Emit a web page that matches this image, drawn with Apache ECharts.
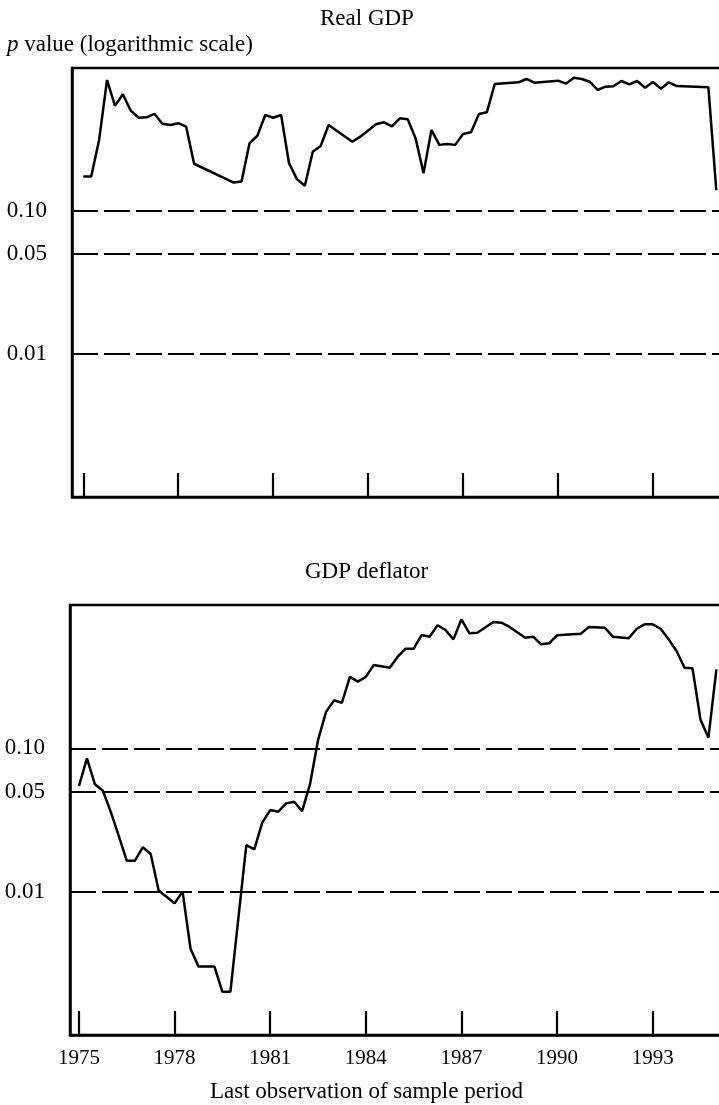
<!DOCTYPE html>
<html>
<head>
<meta charset="utf-8">
<script src="https://cdn.jsdelivr.net/npm/echarts@6.0.0/dist/echarts.min.js"></script>
<style>
  html, body { margin: 0; padding: 0; background: #fff; }
  #chart { width: 719px; height: 1105px; }
</style>
</head>
<body>
<div id="chart"></div>
<script>
// p values (last observation of sample period)
const gdpYears = [
  1975.00, 1975.25, 1975.50, 1975.75, 1976.00, 1976.25, 1976.50, 1976.75,
  1977.00, 1977.25, 1977.50, 1977.75, 1978.00, 1978.25, 1978.50, 1979.75,
  1980.00, 1980.25, 1980.50, 1980.75, 1981.00, 1981.25, 1981.50, 1981.75,
  1982.00, 1982.25, 1982.50, 1982.75, 1983.50, 1983.75, 1984.25, 1984.50,
  1984.75, 1985.00, 1985.25, 1985.50, 1985.75, 1986.00, 1986.25, 1986.50,
  1986.75, 1987.00, 1987.25, 1987.50, 1987.75, 1988.00, 1988.75, 1989.00,
  1989.25, 1990.00, 1990.25, 1990.50, 1990.75, 1991.00, 1991.25, 1991.50,
  1991.75, 1992.00, 1992.25, 1992.50, 1992.75, 1993.00, 1993.25, 1993.50,
  1993.75, 1994.75, 1995.00
];
const gdpP = [
  0.174, 0.174, 0.314, 0.824, 0.545, 0.655, 0.503, 0.449,
  0.452, 0.477, 0.408, 0.399, 0.411, 0.389, 0.214, 0.158,
  0.161, 0.297, 0.336, 0.469, 0.449, 0.469, 0.216, 0.167,
  0.150, 0.260, 0.285, 0.399, 0.305, 0.331, 0.404, 0.417,
  0.390, 0.445, 0.438, 0.322, 0.184, 0.368, 0.290, 0.294,
  0.290, 0.345, 0.355, 0.477, 0.490, 0.773, 0.794, 0.838,
  0.789, 0.815, 0.777, 0.855, 0.838, 0.802, 0.702, 0.740,
  0.745, 0.811, 0.769, 0.811, 0.728, 0.798, 0.717, 0.794,
  0.748, 0.733, 0.140
];

const deflYears = [
  1975.00, 1975.25, 1975.50, 1975.75, 1976.00, 1976.25, 1976.50, 1976.75,
  1977.00, 1977.25, 1977.50, 1978.00, 1978.25, 1978.50, 1978.75, 1979.25,
  1979.50, 1979.75, 1980.25, 1980.50, 1980.75, 1981.00, 1981.25, 1981.50,
  1981.75, 1982.00, 1982.25, 1982.50, 1982.75, 1983.00, 1983.25, 1983.50,
  1983.75, 1984.00, 1984.25, 1984.75, 1985.00, 1985.25, 1985.50, 1985.75,
  1986.00, 1986.25, 1986.50, 1986.75, 1987.00, 1987.25, 1987.50, 1988.00,
  1988.25, 1988.50, 1989.00, 1989.25, 1989.50, 1989.75, 1990.00, 1990.75,
  1991.00, 1991.50, 1991.75, 1992.25, 1992.50, 1992.75, 1993.00, 1993.25,
  1993.50, 1993.75, 1994.00, 1994.25, 1994.50, 1994.75, 1995.00
];
const deflP = [
  0.0546, 0.0852, 0.0561, 0.0506, 0.0359, 0.0244, 0.0164, 0.0164,
  0.0204, 0.0183, 0.0102, 0.0083, 0.0100, 0.0040, 0.0030, 0.0030,
  0.0020, 0.0020, 0.0211, 0.0197, 0.0303, 0.0371, 0.0361, 0.0413,
  0.0424, 0.0365, 0.0563, 0.114, 0.179, 0.216, 0.208, 0.315,
  0.292, 0.315, 0.381, 0.365, 0.436, 0.496, 0.496, 0.617,
  0.601, 0.722, 0.669, 0.576, 0.795, 0.635, 0.641, 0.761,
  0.752, 0.706, 0.591, 0.601, 0.532, 0.540, 0.615, 0.631,
  0.702, 0.694, 0.601, 0.586, 0.683, 0.733, 0.733, 0.683,
  0.576, 0.478, 0.365, 0.362, 0.159, 0.1186, 0.356
];

const tickYears = [1975, 1978, 1981, 1984, 1987, 1990, 1993];
const refLevels = [0.10, 0.05, 0.01];
const refLabels = ['0.10', '0.05', '0.01'];

const FONT = '"Liberation Serif", "Times New Roman", serif';

const chart = echarts.init(document.getElementById('chart'), null, { renderer: 'canvas' });

function pairs(xs, ys) {
  return xs.map((x, i) => [x, ys[i]]);
}

function refLines() {
  return {
    silent: true,
    symbol: ['none', 'none'],
    lineStyle: { color: '#000', width: 1.8, type: [26, 6] },
    label: {
      position: 'start',
      distance: 25,
      color: '#000',
      fontFamily: FONT,
      fontSize: 23
    },
    data: refLevels.map((v, i) => ({ yAxis: v, label: { formatter: refLabels[i] } }))
  };
}

function xAxisFor(idx, min, max, showLabels) {
  return {
    type: 'value',
    gridIndex: idx,
    min: min,
    max: max,
    axisLine: { show: true, lineStyle: { color: '#000', width: 2.5 } },
    axisTick: {
      show: true,
      inside: true,
      length: 24,
      customValues: tickYears,
      lineStyle: { color: '#000', width: 2.2 }
    },
    axisLabel: {
      show: showLabels,
      customValues: tickYears,
      formatter: v => String(v),
      margin: 13,
      color: '#000',
      fontFamily: FONT,
      fontSize: 21
    },
    splitLine: { show: false }
  };
}

function yAxisFor(idx) {
  return {
    type: 'log',
    logBase: 10,
    gridIndex: idx,
    min: 0.001,
    max: 1,
    axisLine: { show: true, lineStyle: { color: '#000', width: 2.5 } },
    axisTick: { show: false },
    axisLabel: { show: false },
    splitLine: { show: false }
  };
}

const option = {
  animation: false,
  backgroundColor: '#fff',
  grid: [
    { left: 72, top: 68, width: 653, height: 429, show: true, borderColor: '#000', borderWidth: 2.5,
      containLabel: false, outerBoundsMode: 'none' },
    { left: 70, top: 605, width: 655, height: 430, show: true, borderColor: '#000', borderWidth: 2.5,
      containLabel: false, outerBoundsMode: 'none' }
  ],
  xAxis: [
    xAxisFor(0, 1974.643, 1995.275, false),
    xAxisFor(1, 1974.718, 1995.27, true)
  ],
  yAxis: [yAxisFor(0), yAxisFor(1)],
  graphic: [
    {
      type: 'text', left: 320, top: 7,
      style: { text: 'Real GDP', fill: '#000', font: '23px ' + FONT }
    },
    {
      type: 'text', left: 7, top: 33,
      style: {
        text: '{i|p} value (logarithmic scale)',
        fill: '#000',
        font: '23px ' + FONT,
        rich: { i: { fontStyle: 'italic', fontFamily: FONT, fontSize: 23 } }
      }
    },
    {
      type: 'text', left: 305, top: 560,
      style: { text: 'GDP deflator', fill: '#000', font: '23px ' + FONT }
    },
    {
      type: 'text', left: 210, top: 1080,
      style: { text: 'Last observation of sample period', fill: '#000', font: '23px ' + FONT }
    }
  ],
  series: [
    {
      name: 'Real GDP',
      type: 'line',
      xAxisIndex: 0,
      yAxisIndex: 0,
      data: pairs(gdpYears, gdpP),
      showSymbol: false,
      lineStyle: { color: '#000', width: 2.5 },
      markLine: refLines()
    },
    {
      name: 'GDP deflator',
      type: 'line',
      xAxisIndex: 1,
      yAxisIndex: 1,
      data: pairs(deflYears, deflP),
      showSymbol: false,
      lineStyle: { color: '#000', width: 2.5 },
      markLine: refLines()
    }
  ]
};

chart.setOption(option);
</script>
</body>
</html>
